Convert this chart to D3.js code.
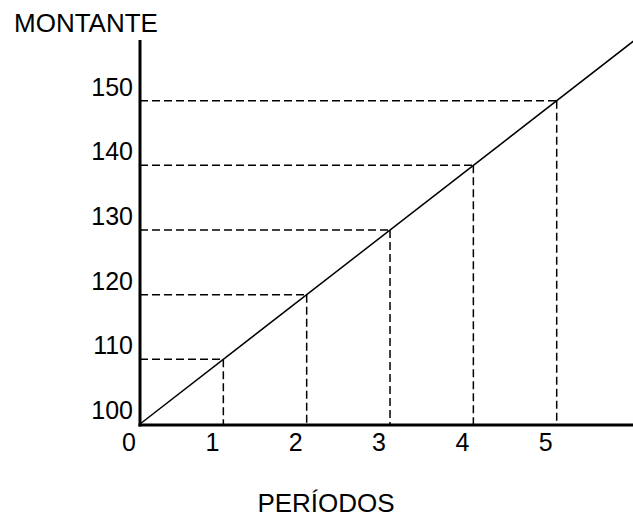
<!DOCTYPE html>
<html>
<head>
<meta charset="utf-8">
<script src="https://cdn.jsdelivr.net/npm/d3@7"></script>
<style>
  body { margin: 0; background: #fff; }
  text { font-family: "Liberation Sans", Arial, sans-serif; font-size: 25px; fill: #000; }
  .title { font-size: 26px; }
</style>
</head>
<body>
<div id="chart"></div>
<script>
// data
var periods = [1, 2, 3, 4, 5];
var amounts = [110, 120, 130, 140, 150];
var xTicks = [0, 1, 2, 3, 4, 5];
var yTicks = [100, 110, 120, 130, 140, 150];
var lineStart = [0, 100];
var lineEnd = [5.92, 159.2];

var svgWidth = 633;
var svgHeight = 519;

var svg = d3.select("#chart").append("svg")
    .attr("width", svgWidth)
    .attr("height", svgHeight);

// scales
var x = d3.scaleLinear().domain([0, 5]).range([140, 556.7]);
var y = d3.scaleLinear().domain([100, 150]).range([424, 100.7]);

// dashed guides
var pts = periods.map((p, i) => ({ p: p, a: amounts[i] }));

svg.selectAll(".hguide")
    .data(pts)
    .enter().append("line")
    .attr("x1", x(0))
    .attr("x2", d => x(d.p))
    .attr("y1", d => y(d.a))
    .attr("y2", d => y(d.a))
    .attr("stroke", "#000")
    .attr("stroke-width", 1.5)
    .attr("stroke-dasharray", "8,4");

svg.selectAll(".vguide")
    .data(pts)
    .enter().append("line")
    .attr("x1", d => x(d.p))
    .attr("x2", d => x(d.p))
    .attr("y1", d => y(d.a))
    .attr("y2", y(100))
    .attr("stroke", "#000")
    .attr("stroke-width", 1.5)
    .attr("stroke-dasharray", "8,4");

// main line
svg.append("line")
    .attr("x1", x(lineStart[0]))
    .attr("y1", y(lineStart[1]))
    .attr("x2", x(lineEnd[0]))
    .attr("y2", y(lineEnd[1]))
    .attr("stroke", "#000")
    .attr("stroke-width", 1.5);

// axes
svg.append("line")
    .attr("x1", x(0)).attr("x2", x(0))
    .attr("y1", 40).attr("y2", 426.5)
    .attr("stroke", "#000")
    .attr("stroke-width", 3);

svg.append("line")
    .attr("x1", x(0) - 1.5).attr("x2", svgWidth)
    .attr("y1", 425).attr("y2", 425)
    .attr("stroke", "#000")
    .attr("stroke-width", 3);

// tick labels
svg.selectAll(".ylab")
    .data(yTicks)
    .enter().append("text")
    .attr("x", 133)
    .attr("y", d => y(d) - 5)
    .attr("text-anchor", "end")
    .text(d => d);

svg.selectAll(".xlab")
    .data(xTicks)
    .enter().append("text")
    .attr("x", d => x(d) - 11)
    .attr("y", 451)
    .attr("text-anchor", "middle")
    .text(d => d);

// axis titles
svg.append("text")
    .attr("class", "title")
    .attr("x", 14)
    .attr("y", 32)
    .text("MONTANTE");

svg.append("text")
    .attr("class", "title")
    .attr("x", 326)
    .attr("y", 512)
    .attr("text-anchor", "middle")
    .text("PERÍODOS");
</script>
</body>
</html>
